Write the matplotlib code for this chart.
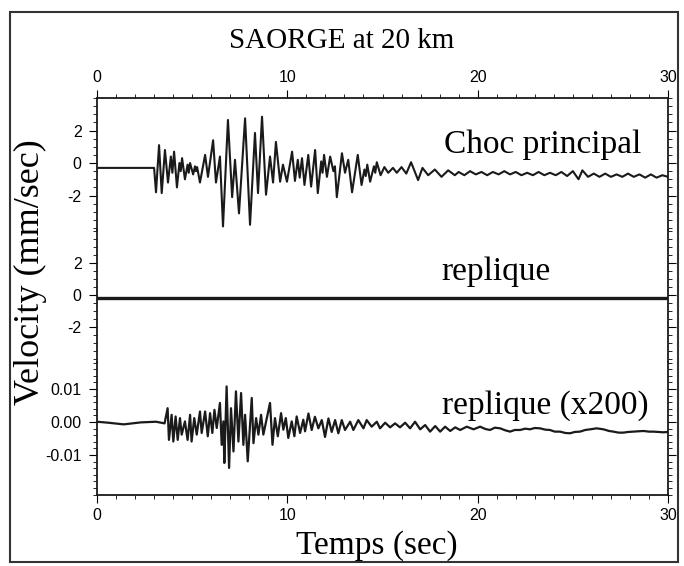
import numpy as np
import matplotlib.pyplot as plt
from matplotlib.ticker import MultipleLocator
from matplotlib.patches import Rectangle

plt.rcParams['font.family'] = 'Liberation Sans'
plt.rcParams['axes.unicode_minus'] = False
serif = 'Liberation Serif'

# Choc principal (mm/sec), peaks
t_choc = [0, 3.0, 3.1, 3.26, 3.4, 3.57, 3.73, 3.88, 3.96, 4.05, 4.2, 4.33, 4.4, 4.47,
          4.62, 4.76, 4.82, 4.89, 5.05, 5.15, 5.2, 5.26, 5.41, 5.68, 5.83, 6.1, 6.25,
          6.46, 6.62, 6.88, 7.1, 7.25, 7.46, 7.78, 8.04, 8.3, 8.46, 8.67, 8.88, 9.09,
          9.25, 9.4, 9.62, 9.77, 9.98, 10.25, 10.4, 10.55, 10.65, 10.77, 10.9, 11.1,
          11.25, 11.46, 11.6, 11.78, 11.85, 11.93, 12.08, 12.25, 12.42, 12.5, 12.6,
          12.87, 13.03, 13.2, 13.4, 13.7, 13.9, 14.05, 14.12, 14.2, 14.35, 14.55,
          14.62, 14.7, 14.9, 15.1, 15.3, 15.55, 15.75, 16.0, 16.25, 16.5, 16.87, 17.1,
          17.4, 17.75, 18.1, 18.45, 18.8, 19.0, 19.3, 19.6, 19.9, 20.2, 20.5, 20.8,
          21.1, 21.4, 21.7, 22.0, 22.3, 22.6, 22.9, 23.2, 23.5, 23.8, 24.1, 24.4, 24.7,
          25.0, 25.3, 25.5, 25.8, 26.1, 26.4, 26.7, 27.0, 27.3, 27.6, 27.9, 28.2, 28.5,
          28.8, 29.1, 29.4, 29.7, 30.0]
v_choc = [-0.3, -0.3, -1.8, 1.1, -1.85, 0.8, -1.2, 0.4, -0.6, 0.7, -1.5, 0.0, -0.5, 0.3,
          -1.0, -0.1, -0.6, 0.0, -0.7, -0.2, -0.5, -0.25, -1.2, 0.5, -0.85, 1.4, -1.2,
          0.4, -3.9, 2.65, -2.1, 0.2, -3.1, 2.75, -3.8, 1.85, -1.85, 2.85, -1.95, 0.4,
          -1.2, 1.3, -1.15, -0.1, -1.15, 0.7, -1.1, 0.2, -0.9, 0.3, -1.35, 0.5,
          -1.45, 0.8, -1.85, 0.1, -0.6, 0.5, -0.85, 0.4, -0.5, -0.2, -2.1,
          0.6, -0.6, 0.2, -1.8, 0.5, -1.35, -0.4, -0.8, -0.1, -1.15, -0.2,
          -0.6, 0.05, -0.75, -0.25, -0.6, -0.3, -0.6, -0.25, -0.65, 0.05, -1.05, -0.3,
          -0.75, -0.4, -0.85, -0.45, -0.75, -0.55, -0.75, -0.5, -0.7, -0.55, -0.75, -0.55,
          -0.7, -0.5, -0.7, -0.55, -0.75, -0.6, -0.75, -0.55, -0.75, -0.6, -0.75, -0.55, -0.8,
          -0.5, -1.0, -0.45, -0.85, -0.65, -0.85, -0.65, -0.85, -0.7, -0.85, -0.65, -0.85, -0.7,
          -0.9, -0.7, -0.9, -0.75, -0.85]

# replique at the same scale: flat
t_rep = [0, 30]
v_rep = [-0.2, -0.2]

# replique x200, values in 1e-3 mm/sec
t_rep200 = [0, 0.6, 1.4, 2.3, 3.1, 3.55, 3.71, 3.78, 3.92, 4.01, 4.13, 4.24, 4.36, 4.45,
            4.62, 4.76, 4.89, 4.97, 5.11, 5.24, 5.41, 5.50, 5.68, 5.82, 5.94, 6.06, 6.17,
            6.29, 6.46, 6.55, 6.64, 6.69, 6.81, 6.94, 7.04, 7.17, 7.30, 7.43, 7.57, 7.69,
            7.78, 7.92, 8.13, 8.22, 8.36, 8.48, 8.62, 8.74, 8.92, 9.09, 9.22, 9.35, 9.50,
            9.67, 9.79, 9.92, 10.05, 10.23, 10.37, 10.49, 10.67, 10.84, 10.93, 11.11,
            11.28, 11.45, 11.63, 11.81, 11.98, 12.16, 12.33, 12.51, 12.68, 12.86, 13.03,
            13.30, 13.47, 13.73, 14.0, 14.17, 14.43, 14.70, 14.87, 15.14, 15.40, 15.66,
            15.92, 16.19, 16.45, 16.71, 16.98, 17.24, 17.50, 17.77, 18.03, 18.29, 18.56,
            18.82, 19.08, 19.43, 19.78, 20.13, 20.4, 20.65, 20.9, 21.18, 21.45, 21.7,
            21.95, 22.23, 22.5, 22.75, 23.0, 23.28, 23.55, 23.8, 24.05, 24.33, 24.6,
            24.85, 25.1, 25.38, 25.65, 25.91, 26.25, 26.61, 26.9, 27.13, 27.4, 27.66,
            27.9, 28.18, 28.45, 28.71, 29.0, 29.23, 29.5, 29.76, 30.0]
v_rep200 = [0.1, -0.2, -0.7, -0.1, 0.1, -0.4, 4.2, -5.4, 2.2, -5.9, 1.7, -5.4, 1.2, -3.8,
            0.2, -5.4, 2.2, -5.9, 1.2, -3.8, 3.2, -3.3, 3.2, -4.3, 2.7, -3.3, 3.7,
            -1.8, 5.8, -6.9, 0.2, -12.4, 10.8, -13.9, 4.2, -8.9, 9.3, -5.9, 8.8, -6.9,
            2.2, -11.9, 7.3, -6.4, 1.2, -3.8, 2.2, -3.8, 1.2, 5.8, -6.9, 1.2, -4.3,
            2.7, -2.3, 1.2, -4.8, 0.2, -4.3, 1.7, -3.3, 0.7, -2.8, 2.6,
            -2.4, 1.6, -1.9, 0.6, -4.5, 1.1, -3.0, 0.6, -3.4, 0.6, -2.4,
            0.1, -2.4, 0.6, -1.9, 0.6, -1.4, 0.1, -1.9, -0.2, -1.6, -0.4,
            -1.6, -0.2, -1.9, 0.1, -2.2, -0.9, -2.9, -1.2, -2.9, -1.4, -2.7,
            -1.6, -2.4, -1.4, -2.2, -1.4, -2.1, -2.4, -1.7, -1.9, -2.5, -2.9,
            -2.4, -2.4, -2.0, -2.2, -1.8, -1.9, -2.3, -2.4, -2.9, -2.9, -3.3,
            -3.4, -3.0, -2.9, -2.4, -2.2, -1.9, -2.2, -2.7, -2.9, -3.2, -3.2,
            -3.0, -2.9, -2.8, -2.7, -2.9, -2.9, -3.0, -3.1, -3.0]

W, H = 684, 566
fig = plt.figure(figsize=(W / 100, H / 100), dpi=100)


def px_axes(top, bot):
    return fig.add_axes([97 / W, 1 - bot / H, 571 / W, (bot - top) / H])


ax1 = px_axes(98, 230)
ax2 = px_axes(230, 362)
ax3 = px_axes(362, 495)

ax1.plot(t_choc, v_choc, color='#1a1a1a', lw=1.5)
ax2.plot(t_rep, v_rep, color='#1a1a1a', lw=2.4)
ax3.plot(t_rep200, np.array(v_rep200) * 1e-3, color='#1a1a1a', lw=1.6)

ax1.set_ylim(-4.12, 4.0)
ax2.set_ylim(-4.19, 4.06)
ax3.set_ylim(-0.0221, 0.0182)

for ax in (ax1, ax2, ax3):
    ax.set_xlim(0, 30)
    for s in ax.spines.values():
        s.set_linewidth(1.3)
        s.set_color('#1a1a1a')
    ax.tick_params(axis='y', which='both', direction='out', left=True, right=True,
                   labelsize=11.5, pad=5)
    ax.tick_params(axis='y', which='major', length=6)
    ax.tick_params(axis='y', which='minor', length=3)
    ax.patch.set_alpha(0)

for ax in (ax1, ax2):
    ax.set_yticks([-2, 0, 2])
    ax.yaxis.set_minor_locator(MultipleLocator(0.5))
ax3.set_yticks([-0.01, 0, 0.01])
ax3.set_yticklabels(['-0.01', '0.00', '0.01'])
ax3.yaxis.set_minor_locator(MultipleLocator(0.002))

ax1.spines['bottom'].set_visible(False)
ax2.spines['top'].set_visible(False)
ax2.spines['bottom'].set_visible(False)
ax3.spines['top'].set_visible(False)

ax1.xaxis.tick_top()
ax2.tick_params(axis='x', which='both', top=False, bottom=False, labelbottom=False)
for ax in (ax1, ax3):
    ax.set_xticks([0, 10, 20, 30])
    ax.xaxis.set_minor_locator(MultipleLocator(1))
    ax.tick_params(axis='x', which='major', length=6, labelsize=11.5, direction='out')
    ax.tick_params(axis='x', which='minor', length=3, direction='out')

fig.text(342 / W, 1 - 41 / H, 'SAORGE at 20 km', ha='center', va='center',
         fontsize=21, family=serif)
fig.text(377 / W, 1 - 546 / H, 'Temps (sec)', ha='center', va='center',
         fontsize=24, family=serif)
fig.text(30 / W, 1 - 272 / H, 'Velocity (mm/sec)', ha='center', va='center',
         rotation=90, fontsize=26, family=serif)
fig.text(543 / W, 1 - 145 / H, 'Choc principal', ha='center', va='center',
         fontsize=24, family=serif)
fig.text(496 / W, 1 - 272 / H, 'replique', ha='center', va='center',
         fontsize=24, family=serif)
fig.text(545 / W, 1 - 406 / H, 'replique (x200)', ha='center', va='center',
         fontsize=24, family=serif)

fig.add_artist(Rectangle((10 / W, 1 - 562 / H), 668 / W, 550 / H, transform=fig.transFigure,
                         fill=False, lw=1.5, edgecolor='#333333'))

fig.savefig('out.png', dpi=100)
